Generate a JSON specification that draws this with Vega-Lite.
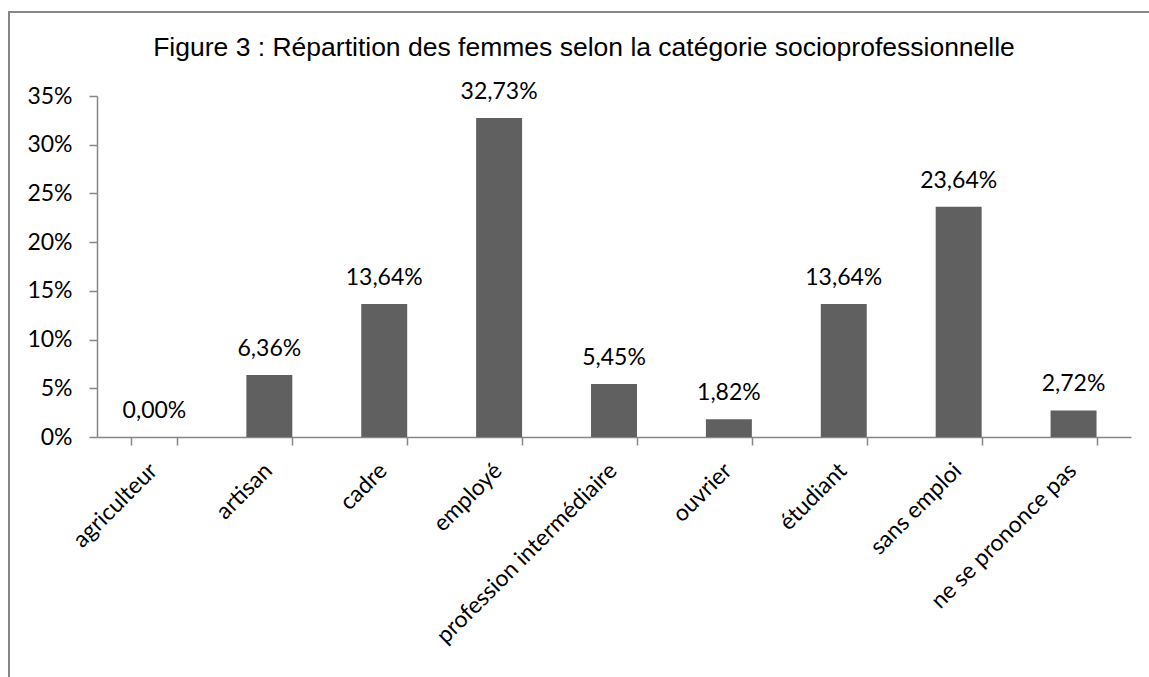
{
  "$schema": "https://vega.github.io/schema/vega-lite/v6.json",
  "autosize": {"type": "none"},
  "width": 1034,
  "height": 341,
  "padding": {"left": 97, "top": 96, "right": 18, "bottom": 240},
  "background": "white",
  "config": {
    "view": {"stroke": null},
    "locale": {"number": {"decimal": ",", "thousands": " ", "grouping": [3], "currency": ["", " €"]}}
  },
  "title": {
    "text": "Figure 3 : Répartition des femmes selon la catégorie socioprofessionnelle",
    "font": "Liberation Sans",
    "fontSize": 26.5,
    "fontWeight": "normal",
    "color": "black",
    "anchor": "middle",
    "baseline": "alphabetic",
    "dx": -30,
    "offset": -71
  },
  "data": {
    "values": [
      {"categorie": "agriculteur", "part": 0.0},
      {"categorie": "artisan", "part": 0.0636},
      {"categorie": "cadre", "part": 0.1364},
      {"categorie": "employé", "part": 0.3273},
      {"categorie": "profession intermédiaire", "part": 0.0545},
      {"categorie": "ouvrier", "part": 0.0182},
      {"categorie": "étudiant", "part": 0.1364},
      {"categorie": "sans emploi", "part": 0.2364},
      {"categorie": "ne se prononce pas", "part": 0.0272}
    ]
  },
  "resolve": {"scale": {"x": "independent"}},
  "layer": [
    {
      "mark": {"type": "rect", "fill": null, "stroke": "#868686", "strokeWidth": 1.5, "clip": false},
      "encoding": {
        "x": {"datum": -0.0851, "type": "quantitative", "scale": {"domain": [0, 1], "nice": false, "zero": false}, "axis": null},
        "x2": {"datum": 1.05},
        "y": {"datum": 0.4362, "type": "quantitative"},
        "y2": {"datum": -0.3}
      }
    },
    {
      "layer": [
        {
          "mark": {"type": "bar", "color": "#606060"},
          "encoding": {
            "x": {
              "field": "categorie",
              "type": "nominal",
              "sort": null,
              "title": null,
              "scale": {"paddingInner": 0.6, "paddingOuter": 0.3},
              "axis": {
                "tickBand": "extent",
                "labelAngle": -45,
                "labelAlign": "right",
                "labelBaseline": "top",
                "labelFont": "Lato",
                "labelFontSize": 23,
                "labelColor": "black",
                "labelPadding": 14,
                "labelOffset": -9,
                "labelLimit": 0,
                "labelOverlap": false,
                "tickSize": 8,
                "tickColor": "#868686",
                "tickWidth": 1.5,
                "domainColor": "#868686",
                "domainWidth": 1.5
              }
            },
            "y": {
              "field": "part",
              "type": "quantitative",
              "title": null,
              "scale": {"domain": [0, 0.35], "nice": false},
              "axis": {
                "values": [0, 0.05, 0.1, 0.15, 0.2, 0.25, 0.3, 0.35],
                "format": ".0%",
                "labelFont": "Lato",
                "labelFontSize": 23,
                "labelColor": "black",
                "labelPadding": 17,
                "labelOverlap": false,
                "tickSize": 8,
                "tickColor": "#868686",
                "tickWidth": 1.5,
                "domainColor": "#868686",
                "domainWidth": 1.5,
                "gridColor": "#868686",
                "gridWidth": 1.5
              }
            }
          }
        },
        {
          "mark": {"type": "text", "font": "Lato", "fontSize": 23, "color": "black", "baseline": "alphabetic", "dy": -19},
          "encoding": {
            "x": {"field": "categorie", "type": "nominal", "sort": null},
            "y": {"field": "part", "type": "quantitative"},
            "text": {"field": "part", "type": "quantitative", "format": ".2%"}
          }
        }
      ]
    }
  ]
}
